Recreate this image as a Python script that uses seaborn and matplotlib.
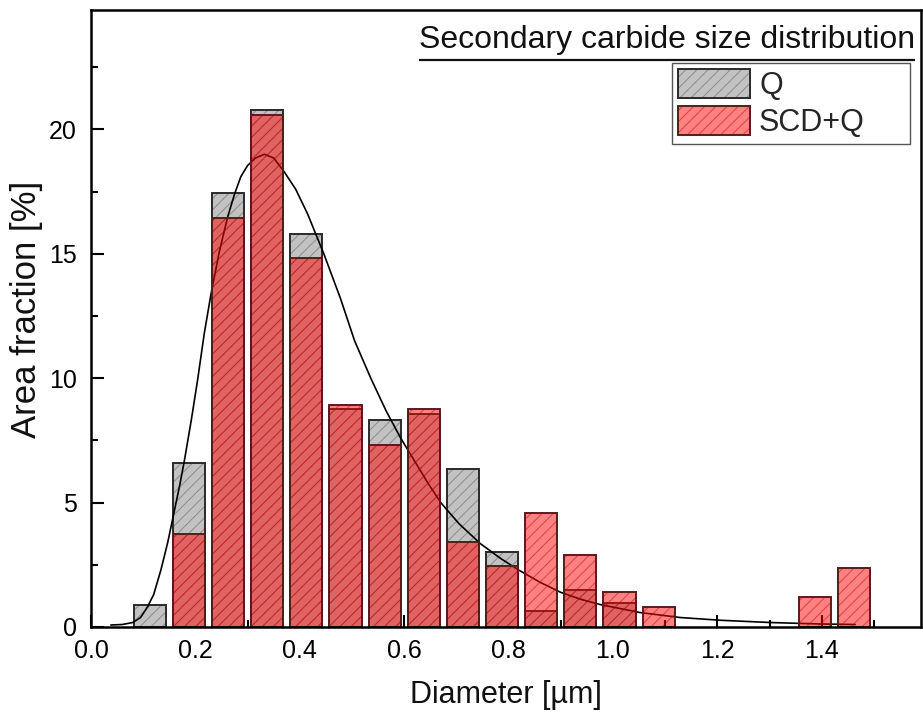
import matplotlib
matplotlib.use("Agg")
import matplotlib.pyplot as plt
from matplotlib.patches import Rectangle, Patch
from matplotlib.legend_handler import HandlerTuple
from matplotlib.ticker import MultipleLocator
import numpy as np
import pandas as pd
import seaborn as sns

# Bin centres (µm) and area fraction (%) per bin
diameter_um = [0.1125, 0.1875, 0.2625, 0.3375, 0.4125, 0.4875, 0.5625, 0.6375,
               0.7125, 0.7875, 0.8625, 0.9375, 1.0125, 1.0875, 1.1625, 1.2375,
               1.3125, 1.3875, 1.4625]
area_q = [0.87, 6.61, 17.45, 20.76, 15.81, 8.76, 8.33, 8.57,
          6.35, 3.03, 0.66, 1.49, 0.95, 0.0, 0.0, 0.0,
          0.0, 0.0, 0.0]
area_scd_q = [0.0, 3.73, 16.45, 20.56, 14.84, 8.93, 7.30, 8.77,
              3.41, 2.47, 4.58, 2.89, 1.40, 0.79, 0.0, 0.0,
              0.0, 1.22, 2.36]

# Fitted distribution curve
fit_x = [0.038, 0.060, 0.080, 0.095, 0.108, 0.120, 0.134, 0.147, 0.159, 0.170,
         0.179, 0.192, 0.204, 0.217, 0.230, 0.246, 0.262, 0.275, 0.287, 0.300,
         0.315, 0.332, 0.350, 0.370, 0.392, 0.415, 0.446, 0.478, 0.505, 0.536,
         0.565, 0.593, 0.619, 0.645, 0.670, 0.705, 0.746, 0.785, 0.820, 0.860,
         0.899, 0.937, 0.976, 1.052, 1.129, 1.206, 1.301, 1.397, 1.464]
fit_y = [0.08, 0.10, 0.18, 0.38, 0.80, 1.30, 2.30, 3.40, 4.60, 5.70,
         6.70, 8.30, 9.90, 11.8, 13.4, 15.1, 16.5, 17.4, 18.1, 18.55,
         18.85, 19.0, 18.85, 18.3, 17.6, 16.6, 15.0, 13.2, 11.5, 10.0,
         8.7, 7.6, 6.7, 5.8, 5.0, 4.15, 3.35, 2.75, 2.28, 1.80,
         1.40, 1.12, 0.90, 0.58, 0.38, 0.27, 0.18, 0.12, 0.10]

x_ticks = [0.0, 0.2, 0.4, 0.6, 0.8, 1.0, 1.2, 1.4]
y_ticks = [0, 5, 10, 15, 20]

sns.set_theme(style="ticks")
plt.rcParams["font.family"] = ["Liberation Sans", "DejaVu Sans"]
plt.rcParams["hatch.linewidth"] = 0.7

df = pd.DataFrame({"diameter": diameter_um, "Q": area_q, "SCD+Q": area_scd_q})

fig = plt.figure(figsize=(9.23, 7.23), dpi=100)
ax = fig.add_axes([0.0986, 0.1328, 0.8992, 0.8534])


def outline_bars(patches, edge, lw, z):
    for p in patches:
        if p.get_height() <= 0:
            continue
        ax.add_patch(Rectangle((p.get_x(), p.get_y()), p.get_width(), p.get_height(),
                               fill=False, edgecolor=edge, linewidth=lw, zorder=z))


# Q bars: grey with grey hatching
n0 = len(ax.patches)
sns.barplot(data=df, x="diameter", y="Q", native_scale=True, width=0.82,
            color="#c2c2c2", saturation=1, errorbar=None, ax=ax,
            edgecolor="#8c8c8c", linewidth=0, hatch="///", zorder=1)
q_patches = ax.patches[n0:]
outline_bars(q_patches, "#2a2a2a", 1.4, 1.2)

# fitted curve
sns.lineplot(x=fit_x, y=fit_y, color="black", linewidth=1.2, ax=ax, zorder=1.5)

# SCD+Q bars: translucent red with red hatching
n1 = len(ax.patches)
sns.barplot(data=df, x="diameter", y="SCD+Q", native_scale=True, width=0.82,
            color="#ff0505", saturation=1, errorbar=None, ax=ax, alpha=0.5,
            edgecolor="#c00000", linewidth=0, hatch="///", zorder=2)
r_patches = [p for p in ax.patches[n1:] if isinstance(p, Rectangle) and p.get_fill()]
outline_bars(r_patches, "#5a1a1a", 1.4, 2.1)

ax.set_xlim(0, 1.59)
ax.set_ylim(0, 24.8)
ax.set_xticks(x_ticks)
ax.set_xticklabels([f"{v:.1f}" for v in x_ticks])
ax.set_yticks(y_ticks)
ax.set_yticklabels([str(v) for v in y_ticks])
ax.xaxis.set_minor_locator(MultipleLocator(0.1))
ax.yaxis.set_minor_locator(MultipleLocator(2.5))
ax.tick_params(which="both", direction="in", width=1.5, colors="black",
               labelsize=18, top=False, right=False)
ax.tick_params(which="major", length=9)
ax.tick_params(which="minor", length=5)
ax.tick_params(axis="y", pad=10)
ax.tick_params(axis="x", pad=9)
for s in ax.spines.values():
    s.set_linewidth(1.8)
    s.set_color("black")
    s.set_visible(True)

ax.set_xlabel("Diameter [µm]", fontsize=22, labelpad=12, color="#111111")
ax.set_ylabel("Area fraction [%]", fontsize=25, color="#111111")
ax.yaxis.set_label_coords(-0.058, 0.515)

# underlined heading inside the axes
title = ax.text(0.993, 0.938, "Secondary carbide size distribution", transform=ax.transAxes,
                ha="right", va="baseline", fontsize=23, color="#111111")

# legend with separate hatch and outline colours
q_fill = Patch(facecolor="#c2c2c2", edgecolor="#8c8c8c", linewidth=0, hatch="///")
q_edge = Patch(facecolor="none", edgecolor="#2a2a2a", linewidth=1.4)
r_fill = Patch(facecolor="#ff0505", alpha=0.5, edgecolor="#c00000", linewidth=0, hatch="///")
r_edge = Patch(facecolor="none", edgecolor="#5a1a1a", linewidth=1.4)
leg = ax.legend([(q_fill, q_edge), (r_fill, r_edge)], ["Q", "SCD+Q"],
                handler_map={tuple: HandlerTuple(ndivide=1, pad=0)},
                loc="upper left", bbox_to_anchor=(0.700, 0.914, 0.287, 0.0),
                mode="expand", borderaxespad=0,
                fontsize=22, handlelength=2.35, handleheight=1.1, handletextpad=0.3,
                borderpad=0.2, labelspacing=0.16, fancybox=False, framealpha=1,
                edgecolor="#555555")
leg.get_frame().set_linewidth(1.0)

fig.canvas.draw()
bb = title.get_window_extent().transformed(ax.transAxes.inverted())
ax.plot([bb.x0, bb.x1], [0.919, 0.919], transform=ax.transAxes, color="#111111",
        linewidth=1.6, solid_capstyle="butt", clip_on=False)

fig.savefig("out.png", dpi=100)
